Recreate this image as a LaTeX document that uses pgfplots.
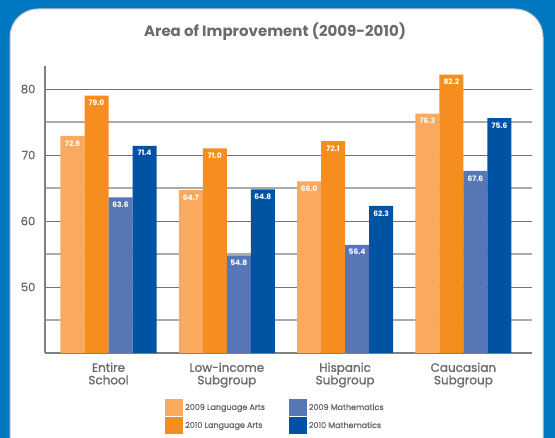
\documentclass[border=0pt]{standalone}
\usepackage{pgfplots}
\pgfplotsset{compat=1.18}
\usepackage{fontspec}
\setmainfont{Poppins}
\newfontfamily\med{Poppins}[FakeBold=1.3]
\definecolor{bgblue}{HTML}{0077C0}
\definecolor{laA}{HTML}{F9AA5F}
\definecolor{laB}{HTML}{F68E1F}
\definecolor{maA}{HTML}{5776B6}
\definecolor{maB}{HTML}{0052A2}
\definecolor{txt}{HTML}{6A6B6E}
\begin{document}
\begin{tikzpicture}[x=1pt,y=1pt]
\useasboundingbox (0,0) rectangle (555,438);
\fill[bgblue] (0,0) rectangle (555,438);
\begin{scope}
\clip (0,0) rectangle (555,438);
\filldraw[fill=white, draw=gray!45, line width=1pt, rounded corners=28pt] (10,-40) rectangle (543,429);
\end{scope}
\node[font=\bfseries\fontsize{15}{17}\selectfont, text=txt] at (275,438-32) {Area of Improvement (2009-2010)};
\begin{axis}[
 at={(45pt,85pt)}, anchor=south west,
 scale only axis, width=487pt, height=287pt,
 xmin=-0.537, xmax=3.58, ymin=40, ymax=83.5,
 ybar=0pt, bar width=0.203,
 axis lines=left,
 axis line style={-, draw=gray, line width=1.2pt},
 ytick={50,60,70,80}, minor ytick={45,55,65,75},
 ymajorgrids, yminorgrids,
 major grid style={draw=black!55, line width=0.9pt},
 minor grid style={draw=black!33, line width=1.4pt},
 tick style={draw=none},
 /pgf/number format/assume math mode=true,
 yticklabel style={font=\med\fontsize{11.5}{13}\selectfont, text=txt, xshift=-4pt},
 xtick={0,1,2,3},
 xticklabels={{Entire\\School},{Low-income\\Subgroup},{Hispanic\\Subgroup},{Caucasian\\Subgroup}},
 xticklabel style={align=center, font=\med\fontsize{12}{12.5}\selectfont, text=txt, yshift=-4pt},
 nodes near coords={\pgfmathprintnumber[fixed,fixed zerofill,precision=1]{\pgfplotspointmeta}},
 every node near coord/.append style={anchor=north, font=\bfseries\fontsize{7.5}{8}\selectfont, text=white, yshift=-1pt},
 legend image code/.code={\fill (0pt,-8.5pt) rectangle (18pt,8.5pt);},
 legend columns=2, transpose legend,
 legend cell align=left,
 legend style={at={(0.2403,-0.1533)}, anchor=north west, draw=none, fill=none,
   font=\med\fontsize{8}{9}\selectfont, text=txt, row sep=1pt,
   /tikz/every even column/.append style={column sep=22pt}},
]
\addplot[fill=laA, draw=none] coordinates {(0,72.9) (1,64.7) (2,66.0) (3,76.3)};
\addplot[fill=laB, draw=none] coordinates {(0,79.0) (1,71.0) (2,72.1) (3,82.2)};
\addplot[fill=maA, draw=none] coordinates {(0,63.6) (1,54.8) (2,56.4) (3,67.6)};
\addplot[fill=maB, draw=none] coordinates {(0,71.4) (1,64.8) (2,62.3) (3,75.6)};
\legend{2009 Language Arts, 2010 Language Arts, 2009 Mathematics, 2010 Mathematics}
\end{axis}
\end{tikzpicture}
\end{document}
